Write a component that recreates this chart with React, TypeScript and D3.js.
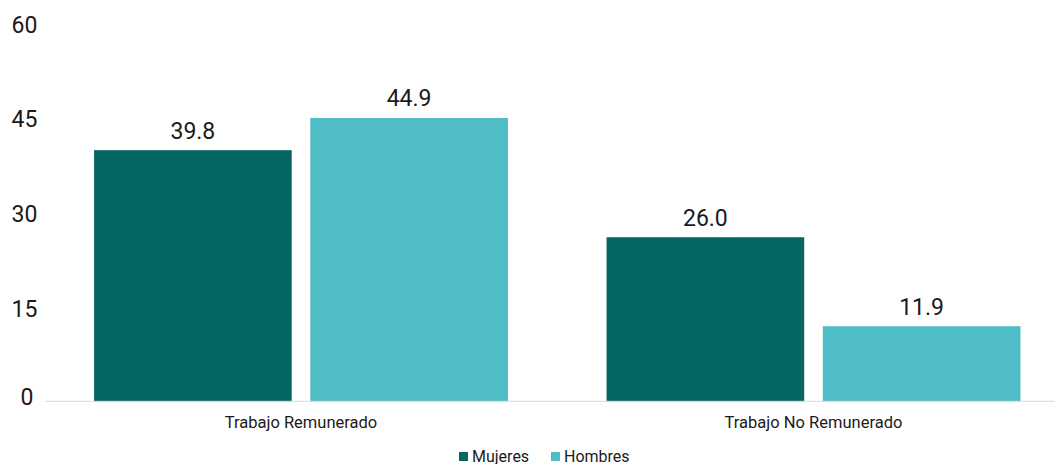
import * as d3 from "d3";
import React from "react";

const categories = ["Trabajo Remunerado", "Trabajo No Remunerado"];
const seriesNames = ["Mujeres", "Hombres"];
const mujeres = [39.8, 26.0];
const hombres = [44.9, 11.9];
const yTicks = [0, 15, 30, 45, 60];
const colors = ["#066664", "#4FBDC6"];

const width = 1055;
const height = 464;
const font = "Roboto, 'Noto Sans', sans-serif";

const App = () => {
  const values = [mujeres, hombres];
  const x0 = d3.scaleBand().domain(categories).range([44.75, 1069.75]);
  const x1 = d3
    .scaleBand()
    .domain(seriesNames)
    .range([0, x0.bandwidth()])
    .paddingInner(0.086)
    .paddingOuter(0.228);
  const y = d3.scaleLinear().domain([0, 60]).range([401.3, 22.7]);

  // legend layout
  const legendX = [459, 551];

  return (
    <svg
      width={width}
      height={height}
      style={{ position: "absolute", left: 0, top: 0 }}
      fontFamily={font}
    >
      <rect width={width} height={height} fill="#ffffff" />
      {yTicks.map((t) => (
        <text
          key={t}
          x={t === 0 ? 27 : 24.5}
          y={Math.min(y(t) + 10, 405)}
          textAnchor="middle"
          fontSize={23}
          fill="#1a1a1a"
        >
          {t}
        </text>
      ))}
      {categories.map((c, i) => (
        <g key={c} transform={`translate(${x0(c)},0)`}>
          {seriesNames.map((s, k) => {
            const v = values[k][i];
            const bx = x1(s) as number;
            return (
              <g key={s}>
                <rect
                  x={bx}
                  y={y(v)}
                  width={x1.bandwidth()}
                  height={y(0) - y(v)}
                  fill={colors[k]}
                />
                <text
                  x={bx + x1.bandwidth() / 2}
                  y={y(v) - 11.5}
                  textAnchor="middle"
                  fontSize={23}
                  fill="#1a1a1a"
                >
                  {v.toFixed(1)}
                </text>
              </g>
            );
          })}
          <text
            x={x0.bandwidth() / 2}
            y={428}
            textAnchor="middle"
            fontSize={16.5}
            fill="#1a1a1a"
          >
            {c}
          </text>
        </g>
      ))}
      <line
        x1={45}
        x2={width}
        y1={y(0)}
        y2={y(0)}
        stroke="#d9d9d9"
        strokeWidth={1}
      />
      {seriesNames.map((s, k) => (
        <g key={s} transform={`translate(${legendX[k]},452)`}>
          <rect width={9} height={9} fill={colors[k]} />
          <text x={13} y={9.5} fontSize={16} fill="#1a1a1a">
            {s}
          </text>
        </g>
      ))}
    </svg>
  );
};

export default App;
